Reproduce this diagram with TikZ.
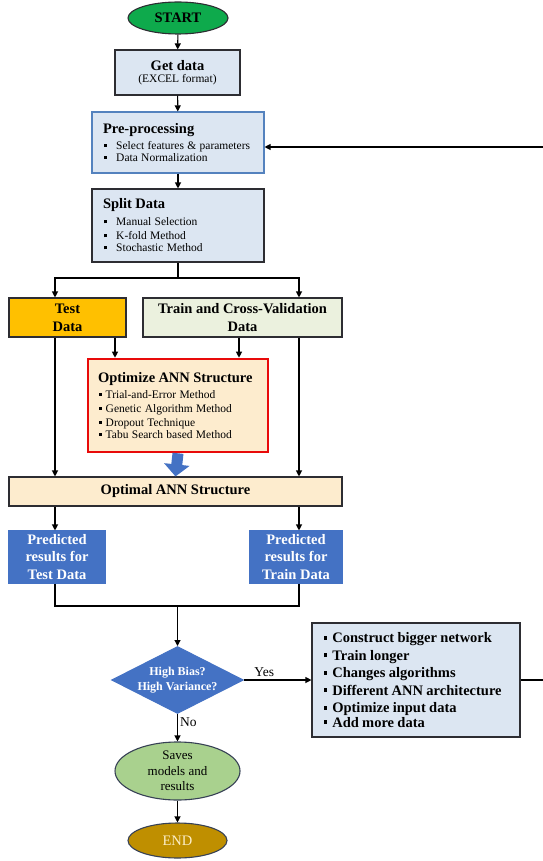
\documentclass[tikz,border=0pt]{standalone}
\usepackage{fontspec}
\setmainfont{Liberation Serif}
\usetikzlibrary{shapes.geometric,arrows.meta,calc}
\definecolor{startgreen}{RGB}{14,170,76}
\definecolor{lblue}{RGB}{220,230,242}
\definecolor{preborder}{RGB}{84,130,190}
\definecolor{bordc}{RGB}{45,45,50}
\definecolor{testorange}{RGB}{255,192,0}
\definecolor{trainfill}{RGB}{235,241,222}
\definecolor{optfill}{RGB}{253,236,206}
\definecolor{redb}{RGB}{232,10,10}
\definecolor{blueA}{RGB}{68,114,196}
\definecolor{savesgreen}{RGB}{169,209,142}
\definecolor{endgold}{RGB}{191,143,0}
\definecolor{endtext}{RGB}{252,238,200}
\definecolor{ellborder}{RGB}{55,65,85}
\newcommand{\sqb}{\raisebox{0.22em}{\rule{3.2pt}{3.2pt}}}
\newcommand{\sqbb}{\raisebox{0.22em}{\rule{3.8pt}{3.8pt}}}
\newcommand{\fz}[2]{\fontsize{#1}{#2}\selectfont}
\begin{document}
\begin{tikzpicture}[x=1pt,y=-1pt,
  box/.style={draw=bordc, line width=1.1pt, rectangle, inner sep=0pt, fill=lblue},
  ell/.style={draw=ellborder, line width=1.1pt, ellipse, inner sep=0pt},
  arr/.style={line width=1.1pt, -{Triangle[length=6pt,width=6pt]}},
  con/.style={line width=1.1pt}]
\useasboundingbox (0,0) rectangle (542,861);
\fill[white] (0,0) rectangle (542,861);

\coordinate (cL) at (55,0);
\coordinate (cR) at (299,0);
\coordinate (cA) at (115,0);
\coordinate (cB) at (239,0);

% START
\node[ell, fill=startgreen, draw=bordc, minimum width=100pt, minimum height=32pt, font=\fz{14.5}{16}\bfseries] (start) at (178,18) {START};

% Get data
\node[box, minimum width=125pt, minimum height=45pt, align=center] (get) at (177.5,72.5)
  {\fz{14.5}{16}\bfseries Get data\\[0pt]\fz{11.5}{15}\mdseries (EXCEL format)};

% Pre-processing
\node[box, draw=preborder, minimum width=172pt, minimum height=61pt, text width=150pt, align=left] (pre) at (178,142.5)
  {\fz{14.5}{13.3}\bfseries Pre-processing\\[2.5pt]\fz{11.5}{13.3}\mdseries
   \hspace*{1pt}\sqb\hspace{9pt}Select features \& parameters\\
   \hspace*{1pt}\sqb\hspace{9pt}Data Normalization};

% Split Data
\node[box, minimum width=172pt, minimum height=73pt, text width=150pt, align=left] (split) at (178,225.5)
  {\fz{14.5}{14}\bfseries Split Data\\[3pt]\fz{11.5}{14}\mdseries
   \hspace*{1pt}\sqb\hspace{9pt}Manual Selection\\
   \hspace*{1pt}\sqb\hspace{9pt}K-fold Method\\
   \hspace*{1pt}\sqb\hspace{9pt}Stochastic Method};

% Test / Train
\node[box, fill=testorange, minimum width=117pt, minimum height=39pt, align=center, font=\fz{14.5}{18}\bfseries] (test) at (67.5,317.5)
  {Test\\Data};
\node[box, fill=trainfill, minimum width=199pt, minimum height=39pt, align=center, font=\fz{14.5}{18}\bfseries] (train) at (242.5,317.5)
  {Train and Cross-Validation\\Data};

% Optimize
\node[box, draw=redb, line width=2.6pt, fill=optfill, minimum width=180pt, minimum height=93pt, text width=160pt, align=left] (opt) at (178,405.5)
  {\fz{14.5}{14}\bfseries Optimize ANN Structure\\[2pt]\fz{11.5}{14}\mdseries
   \hspace*{0.5pt}\sqb\hspace{4pt}Trial-and-Error Method\\
   \hspace*{0.5pt}\sqb\hspace{4pt}Genetic Algorithm Method\\
   \hspace*{0.5pt}\sqb\hspace{4pt}Dropout Technique\\
   \hspace*{0.5pt}\sqb\hspace{4pt}Tabu Search based Method};

% Optimal
\node[box, fill=optfill, minimum width=333pt, minimum height=29pt, font=\fz{14.5}{16}\bfseries] (optimal) at (175.5,491.5)
  {Optimal ANN Structure};

% Predicted
\node[box, fill=blueA, draw=blueA, text=white, minimum width=96pt, minimum height=52pt, align=center, font=\fz{14.5}{17.5}\bfseries] (ptest) at (57,557)
  {Predicted\\results for\\Test Data};
\node[box, fill=blueA, draw=blueA, text=white, minimum width=92pt, minimum height=52pt, align=center, font=\fz{14.5}{17.5}\bfseries] (ptrain) at (296,557)
  {Predicted\\results for\\Train Data};

% Diamond
\node[diamond, fill=blueA, draw=blueA, line width=1pt, text=white, inner sep=0pt, shape aspect=2, minimum width=130pt, minimum height=67pt, align=center, font=\fz{12}{15}\bfseries] (dia) at (177.5,680)
  {High Bias?\\High Variance?};

% Remedy box
\node[box, minimum width=208pt, minimum height=114pt, text width=186pt, align=left] (rem) at (416,680)
  {\fz{14.5}{17.5}\bfseries
   \hspace*{0.5pt}\sqbb\hspace{5pt}Construct bigger network\\
   \hspace*{0.5pt}\sqbb\hspace{5pt}Train longer\\
   \hspace*{0.5pt}\sqbb\hspace{5pt}Changes algorithms\\
   \hspace*{0.5pt}\sqbb\hspace{5pt}Different ANN architecture\\
   \hspace*{0.5pt}\sqbb\hspace{5pt}Optimize input data\\
   \hspace*{0.5pt}\sqbb\hspace{5pt}Add more data};

% Saves / END
\node[ell, fill=savesgreen, minimum width=125pt, minimum height=58pt, align=center, font=\fz{13}{15.5}] (saves) at (177.5,771)
  {Saves\\models and\\results};
\node[ell, fill=endgold, text=endtext, minimum width=99pt, minimum height=35pt, font=\fz{14.5}{16}] (end) at (177.5,840.5)
  {END};

% Connectors
\draw[arr] (start) -- (get);
\draw[arr] (get) -- (pre);
\draw[arr] (pre) -- (split);
\coordinate (sj) at (178,278);
\draw[con] (split.south) -- (sj);
\draw[arr] (sj) -| (test.north -| cL);
\draw[arr] (sj) -| (train.north -| cR);
\draw[arr] (test.south -| cA) -- (opt.north -| cA);
\draw[arr] (train.south -| cB) -- (opt.north -| cB);
\draw[arr] (test.south -| cL) -- (optimal.north -| cL);
\draw[arr] (train.south -| cR) -- (optimal.north -| cR);
\draw[blueA, line width=11pt, -{Triangle[length=12pt,width=25pt]}] (opt.south) -- (optimal.north);
\draw[arr] (optimal.south -| cL) -- (ptest.north -| cL);
\draw[arr] (optimal.south -| cR) -- (ptrain.north -| cR);
\coordinate (jn) at (177.5,606);
\draw[con] (ptest.south -| cL) |- (jn);
\draw[con] (ptrain.south -| cR) |- (jn);
\draw[arr] (jn) -- (dia.north);
\draw[arr] (dia.east) -- node[above, pos=0.3, inner sep=3pt, font=\fz{13.5}{15}] {Yes} (rem.west);
\draw[arr] (dia.south) -- node[right, pos=0.3, inner sep=2pt, font=\fz{13.5}{15}] {No} (saves.north);
\draw[arr] (saves) -- (end);
\coordinate (fbR) at (548,147);
\draw[con] (rem.east) -- (rem.east -| fbR) -- (fbR);
\draw[arr] (fbR) -- (pre.east |- fbR);
\end{tikzpicture}
\end{document}
